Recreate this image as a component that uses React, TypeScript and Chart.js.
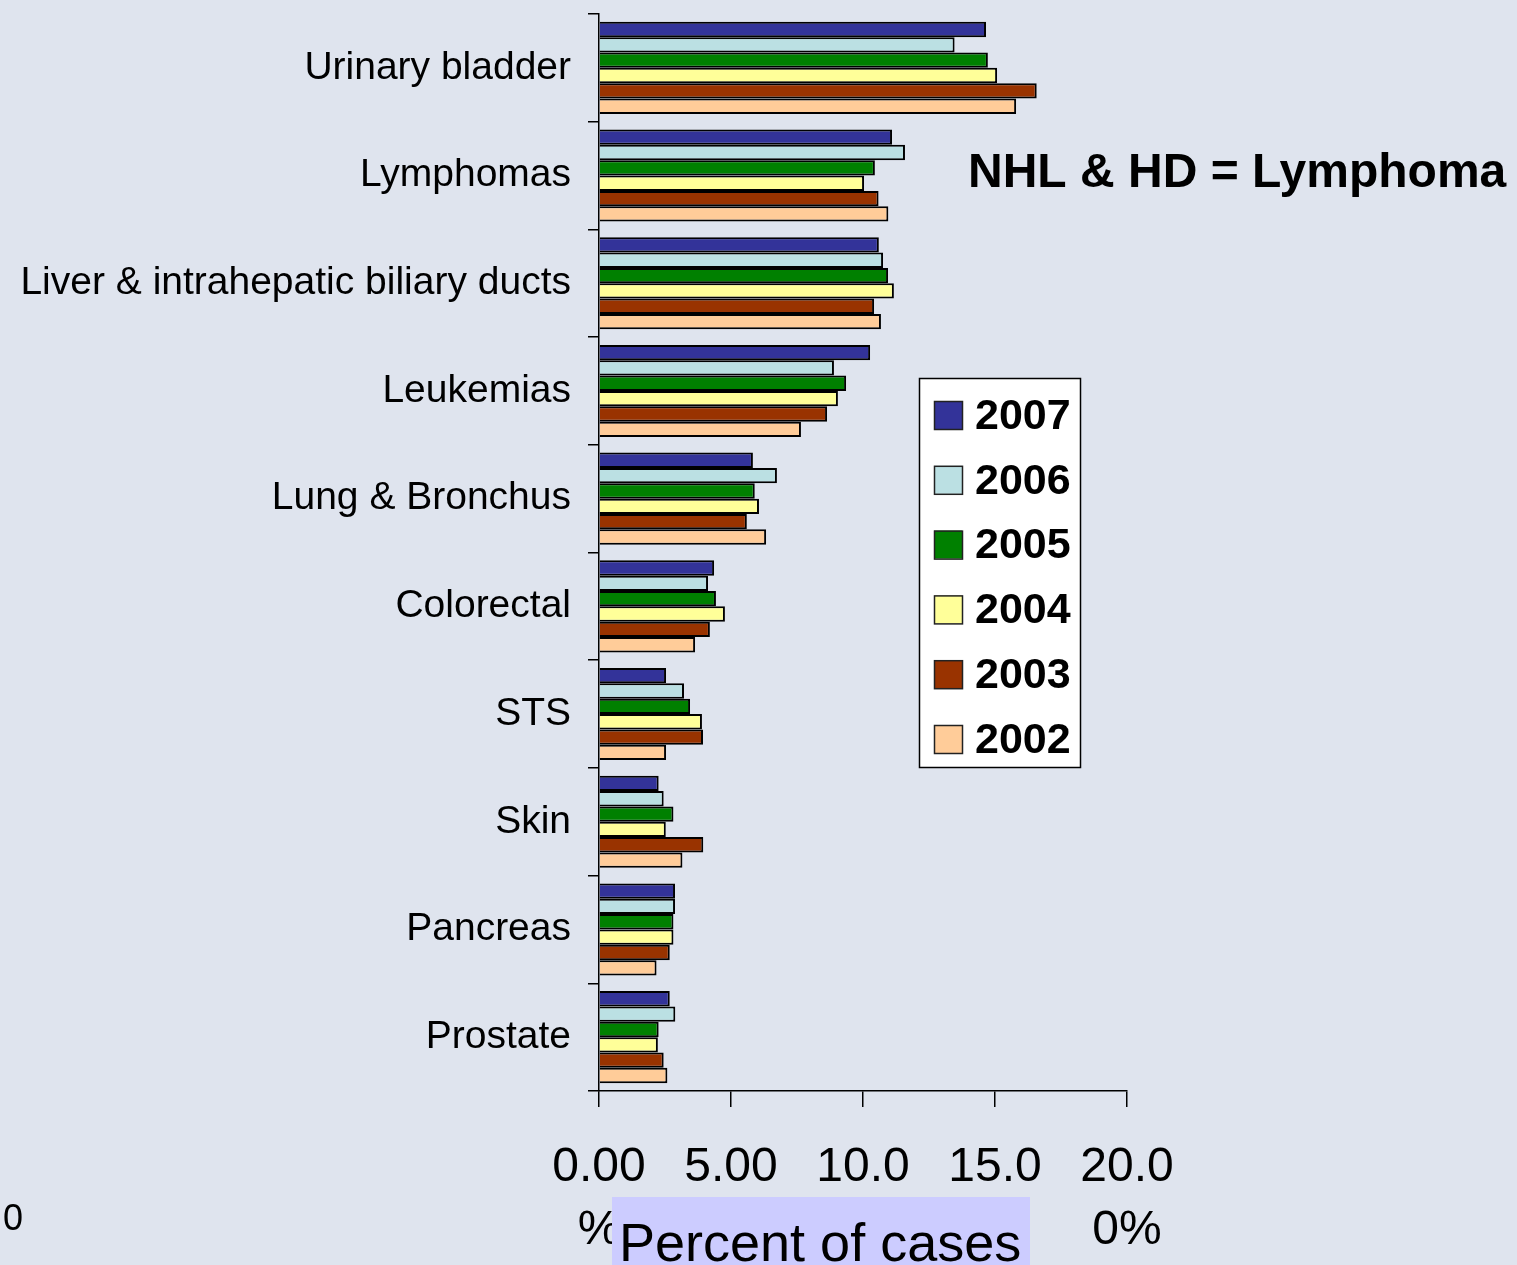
import React, { useEffect, useRef } from "react";
import { Chart, registerables } from "chart.js";

Chart.register(...registerables);

const categories = [
  "Urinary bladder",
  "Lymphomas",
  "Liver & intrahepatic biliary ducts",
  "Leukemias",
  "Lung & Bronchus",
  "Colorectal",
  "STS",
  "Skin",
  "Pancreas",
  "Prostate",
];

const years = ["2007", "2006", "2005", "2004", "2003", "2002"];
const colors = ["#333399", "#bbe0e3", "#008000", "#ffff99", "#993300", "#ffcc99"];

const v2007 = [14.66, 11.1, 10.6, 10.27, 5.83, 4.36, 2.54, 2.26, 2.88, 2.68];
const v2006 = [13.47, 11.59, 10.76, 8.9, 6.74, 4.13, 3.22, 2.45, 2.88, 2.89];
const v2005 = [14.73, 10.45, 10.95, 9.36, 5.9, 4.43, 3.45, 2.82, 2.82, 2.26];
const v2004 = [15.08, 10.04, 11.17, 9.05, 6.06, 4.77, 3.9, 2.53, 2.82, 2.23];
const v2003 = [16.58, 10.59, 10.42, 8.64, 5.6, 4.2, 3.94, 3.95, 2.68, 2.45];
const v2002 = [15.8, 10.96, 10.68, 7.65, 6.33, 3.64, 2.54, 3.16, 2.18, 2.59];

const seriesValues = [v2007, v2006, v2005, v2004, v2003, v2002];

const xTickValues = [0, 5, 10, 15, 20];
const xTickLabels: string[][] = [
  ["0.00", "%"],
  ["5.00", "%"],
  ["10.0", "0%"],
  ["15.0", "0%"],
  ["20.0", "0%"],
];

const axisTitle = "Percent of cases";
const noteText = "NHL & HD = Lymphoma";
const strayText = "0";

const FONT = "'Liberation Sans', Arial, sans-serif";
const BG = "#dfe4ee";

const bgPlugin = {
  id: "bgFill",
  beforeDraw(chart: any) {
    const { ctx, width, height } = chart;
    ctx.save();
    ctx.fillStyle = BG;
    ctx.fillRect(0, 0, width, height);
    ctx.restore();
  },
};

const overlayPlugin = {
  id: "overlay",
  afterDraw(chart: any) {
    const ctx = chart.ctx as CanvasRenderingContext2D;
    ctx.save();

    // axis title with background
    ctx.fillStyle = "#ccccff";
    ctx.fillRect(612, 1197, 418, 80);
    ctx.fillStyle = "#000";
    ctx.font = `54px ${FONT}`;
    ctx.textAlign = "left";
    ctx.textBaseline = "alphabetic";
    ctx.fillText(axisTitle, 619, 1261);

    // note
    ctx.font = `bold 48px ${FONT}`;
    ctx.textBaseline = "middle";
    ctx.fillText(noteText, 968, 174);

    // stray text
    ctx.font = `36px ${FONT}`;
    ctx.fillText(strayText, 3, 1220);

    // legend
    const lx = 919, ly = 378, lw = 161, lh = 389;
    ctx.fillStyle = "#ffffff";
    ctx.fillRect(lx, ly, lw, lh);
    ctx.strokeStyle = "#000";
    ctx.lineWidth = 1.5;
    ctx.strokeRect(lx + 0.5, ly + 0.5, lw, lh);
    const ds = chart.data.datasets;
    ctx.font = `bold 43px ${FONT}`;
    ctx.textBaseline = "middle";
    for (let i = 0; i < ds.length; i++) {
      const cy = 415 + i * 64.8;
      ctx.fillStyle = ds[i].backgroundColor;
      ctx.fillRect(934, cy - 14, 28, 28);
      ctx.strokeStyle = "#222";
      ctx.lineWidth = 1.5;
      ctx.strokeRect(934.5, cy - 13.5, 28, 28);
      ctx.fillStyle = "#000";
      ctx.fillText(ds[i].label, 975, cy + 2);
    }
    ctx.restore();
  },
};

export default function App() {
  const ref = useRef<HTMLCanvasElement | null>(null);

  useEffect(() => {
    document.body.style.margin = "0";
    document.body.style.background = BG;
    const canvas = ref.current;
    if (!canvas) return;
    const chart = new Chart(canvas, {
      type: "bar",
      data: {
        labels: categories,
        datasets: years.map((y, i) => ({
          label: y,
          data: seriesValues[i],
          backgroundColor: colors[i],
          borderColor: "#000",
          borderWidth: 2,
          categoryPercentage: 0.855,
          barPercentage: 1.0,
        })),
      },
      options: {
        indexAxis: "y",
        animation: false,
        responsive: false,
        maintainAspectRatio: false,
        layout: { padding: { top: 14, right: 390, left: 0, bottom: 0 } },
        plugins: {
          legend: { display: false },
          tooltip: { enabled: false },
          title: { display: false },
        },
        scales: {
          x: {
            type: "linear",
            min: 0,
            max: 20,
            afterFit(scale: any) {
              scale.height = 174;
            },
            afterBuildTicks(scale: any) {
              scale.ticks = xTickValues.map((v) => ({ value: v }));
            },
            grid: {
              display: true,
              drawOnChartArea: false,
              drawTicks: true,
              tickLength: 16,
              color: "#000",
              lineWidth: 1.5,
            },
            border: { display: true, color: "#000", width: 1.5 },
            ticks: {
              autoSkip: false,
              maxRotation: 0,
              padding: 30,
              color: "#000",
              font: { family: FONT, size: 48, lineHeight: 1.3 },
              callback: (value: any) => {
                const idx = xTickValues.indexOf(Number(value));
                return idx >= 0 ? xTickLabels[idx] : "";
              },
            },
          },
          y: {
            type: "category",
            afterFit(scale: any) {
              scale.width = 599;
              scale.paddingTop = 0;
              scale.paddingBottom = 0;
            },
            grid: {
              display: true,
              offset: true,
              drawOnChartArea: false,
              drawTicks: true,
              tickLength: 11,
              color: "#000",
              lineWidth: 1.5,
            },
            border: { display: true, color: "#000", width: 1.5 },
            ticks: {
              autoSkip: false,
              padding: 17,
              color: "#000",
              font: { family: FONT, size: 39 },
            },
          },
        },
      },
      plugins: [bgPlugin, overlayPlugin],
    });
    return () => chart.destroy();
  }, []);

  return (
    <div style={{ position: "absolute", left: 0, top: 0, width: 1517, height: 1265 }}>
      <canvas ref={ref} width={1517} height={1265} style={{ width: 1517, height: 1265, display: "block" }} />
    </div>
  );
}
